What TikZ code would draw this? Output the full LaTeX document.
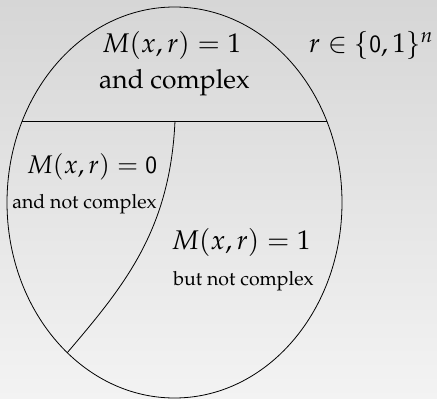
\documentclass[tikz,border=0pt]{standalone}
\usepackage[T1]{fontenc}
\usepackage{mathpazo}
\usetikzlibrary{shapes.geometric}
\definecolor{bgtop}{HTML}{D6D6D6}
\definecolor{bgbot}{HTML}{F3F3F3}
\tikzset{
  big/.style={font=\fontsize{27}{32}\selectfont, inner sep=0pt, anchor=base},
  mid/.style={font=\fontsize{26.4}{31}\selectfont, inner sep=0pt, anchor=base},
  small/.style={font=\fontsize{19.5}{23}\selectfont, inner sep=0pt, anchor=base},
  outline/.style={draw=black, line width=0.8pt}
}
\begin{document}
\begin{tikzpicture}[x=1pt,y=-1pt]
\shade[top color=bgtop, bottom color=bgbot] (0,0) rectangle (437,399);
\useasboundingbox (0,0) rectangle (437,399);
\node[outline, ellipse, minimum width=335pt, minimum height=391pt, inner sep=0pt] (E) at (174.5,202.5) {};
\coordinate (L) at (22.3,121);
\coordinate (R) at (326.7,121);
\coordinate (T) at (175,121);
\coordinate (B) at (67,353);
\draw[outline] (L) -- (R);
\draw[outline] (T) .. controls (170,230) and (125,285) .. (B);
\node[big] (t1) at (171.5,52.5) {$M(x,r)=1$};
\node[mid] (t2) at (174.5,88) {and complex};
\node[big] (rr) at (371,52.5) {$r\in\{\mathsf{0},1\}^n$};
\node[big, font=\fontsize{25.5}{30}\selectfont] (m0) at (92,173) {$M(x,r)=\mathsf{0}$};
\node[small] (n0) at (84.5,208) {and not complex};
\node[big] (m1) at (241,249) {$M(x,r)=1$};
\node[small] (n1) at (243.5,285) {but not complex};
\end{tikzpicture}
\end{document}
